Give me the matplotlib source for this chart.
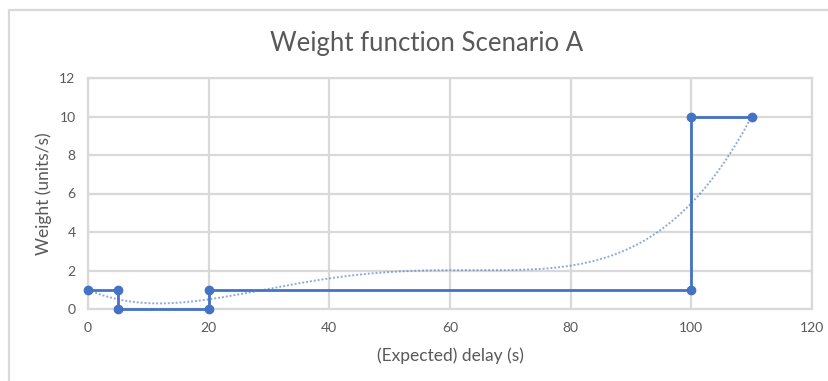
import numpy as np
import matplotlib
matplotlib.use("Agg")
import matplotlib.pyplot as plt
from matplotlib.patches import Rectangle

plt.rcParams["font.family"] = ["Lato", "DejaVu Sans"]

# Step-shaped weight function: (expected) delay vs weight
delay = [0, 5, 5, 20, 20, 100, 100, 110]
weight = [1, 1, 0, 0, 1, 1, 10, 10]

x_ticks = [0, 20, 40, 60, 80, 100, 120]
y_ticks = [0, 2, 4, 6, 8, 10, 12]

blue = "#4472C4"
grid_grey = "#D9D9D9"
text_grey = "#595959"

W, H = 829, 381
fig = plt.figure(figsize=(W / 100, H / 100), dpi=100)

# chart frame
fig.patches.append(Rectangle((9 / W, -0.05), 1.1, 1 - 10 / H + 0.05,
                             transform=fig.transFigure, fill=False,
                             edgecolor=grid_grey, lw=1.6))

ax = fig.add_axes([88 / W, 1 - 309 / H, (812 - 88) / W, (309 - 78) / H])
ax.set_xlim(0, 120)
ax.set_ylim(0, 12)
ax.set_xticks(x_ticks)
ax.set_yticks(y_ticks)
ax.grid(True, color=grid_grey, lw=1.6)
ax.set_axisbelow(True)
for s in ax.spines.values():
    s.set_color(grid_grey)
    s.set_linewidth(1.6)
ax.tick_params(length=0, colors=text_grey, labelsize=10, pad=9)

ax.plot(delay, weight, color=blue, lw=2, marker="o", ms=6, zorder=3,
        clip_on=False)

# 4th-order polynomial trendline
coef = np.polyfit(delay, weight, 4)
xs = np.linspace(min(delay), max(delay), 400)
ax.plot(xs, np.polyval(coef, xs), color=blue, lw=1.4, ls=(0, (1, 1)),
        alpha=0.6, zorder=2)

ax.set_xlabel("(Expected) delay (s)", color=text_grey, fontsize=12.5, labelpad=10)
ax.set_ylabel("Weight (units/s)", color=text_grey, fontsize=12.5, labelpad=5)
fig.text(0.515, 1 - 43 / H, "Weight function Scenario A", ha="center",
         va="center", fontsize=18.5, color=text_grey)

fig.savefig("out.png", dpi=100)
